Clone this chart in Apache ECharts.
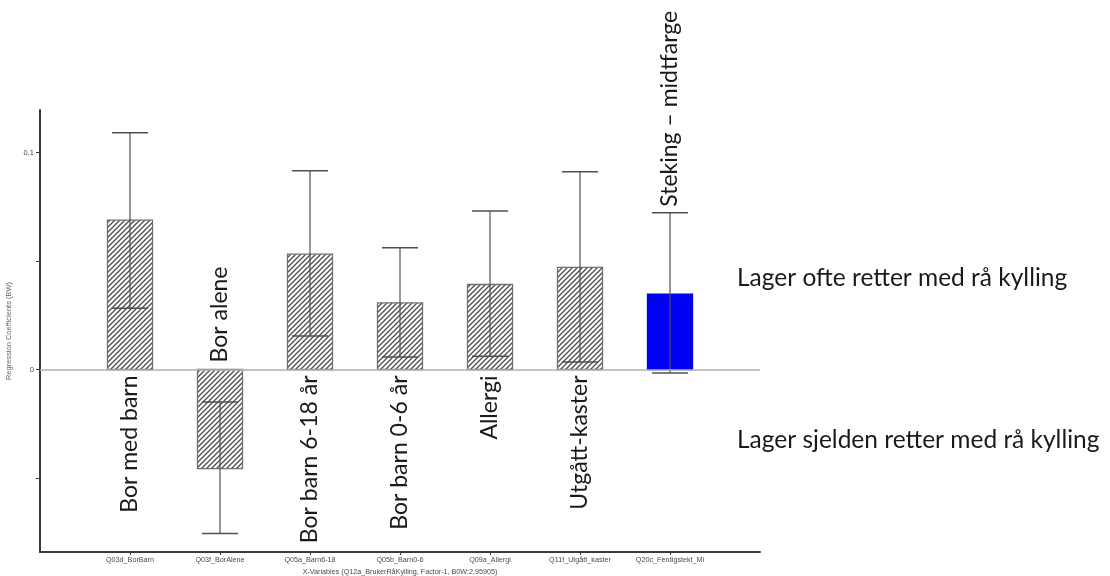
<!DOCTYPE html>
<html><head><meta charset="utf-8">
<script src="https://cdn.jsdelivr.net/npm/echarts@6/dist/echarts.min.js"></script>
<style>html,body{margin:0;padding:0;background:#fff}#c{width:1110px;height:576px}</style>
</head><body><div id="c"></div>
<script>
// ---- data ----
const categories = ['Q03d_BorBarn','Q03f_BorAlene','Q05a_Barn6-18','Q05b_Barn0-6','Q09a_Allergi','Q11f_Utgått_kaster','Q20c_Ferdigstekt_Mi'];
const coefficients = [0.0689, -0.0457, 0.0532, 0.0307, 0.0392, 0.0471, 0.0348];
const errorLow  = [0.0282, -0.0757, 0.0154, 0.0058, 0.0061, 0.0034, -0.0016];
const errorHigh = [0.1092, -0.0150, 0.0917, 0.0561, 0.0731, 0.0912, 0.0723];
const annotations = ['Bor med barn','Bor alene','Bor barn 6-18 år','Bor barn 0-6 år','Allergi','Utgått-kaster','Steking – midtfarge'];
const annotationPlace = ['below','above','below','below','below','below','aboveError'];
const yTickValues = [-0.05, 0, 0.05, 0.1];
const yLabelValues = [0, 0.1];
const sideNotes = ['Lager ofte retter med rå kylling', 'Lager sjelden retter med rå kylling'];
const xAxisTitle = 'X-Variables (Q12a_BrukerRåKylling, Factor-1, B0W:2,95905)';
const yAxisTitle = 'Regression Coefficients (BW)';

// ---- style ----
const highlightIndex = 6;
const BLUE = '#0000f2';
const ANNO_FONT_V = '23px Lato';
const ANNO_FONT_H = '24.5px Lato';

function makeHatch(){
  const s = 5;
  const c = document.createElement('canvas'); c.width = s; c.height = s;
  const g = c.getContext('2d');
  g.fillStyle = '#ffffff'; g.fillRect(0,0,s,s);
  g.strokeStyle = '#4e4e4e'; g.lineWidth = 1.3;
  [[-1, s+1, s+1, -1], [-1, 1, 1, -1], [s-1, s+1, s+1, s-1]].forEach(l => {
    g.beginPath(); g.moveTo(l[0], l[1]); g.lineTo(l[2], l[3]); g.stroke();
  });
  return c;
}
const hatchCanvas = makeHatch();

const seriesData = categories.map((c, i) => [i, coefficients[i], errorLow[i], errorHigh[i]]);

const chart = echarts.init(document.getElementById('c'), null, {renderer: 'canvas'});
chart.setOption({
  animation: false,
  backgroundColor: '#fff',
  grid: {left: 40, right: 350, top: 110, bottom: 24, containLabel: false, outerBoundsMode: 'none'},
  xAxis: {
    type: 'value', min: -1, max: categories.length,
    splitLine: {show: false},
    axisLine: {show: true, onZero: false, lineStyle: {color: '#3a3a3a', width: 2}},
    axisTick: {show: true, length: 3, lineStyle: {color: '#3a3a3a'}, customValues: categories.map((c, i) => i)},
    axisLabel: {
      show: true, fontSize: 7.2, color: '#4a4a4a', fontFamily: 'Liberation Sans', margin: 5,
      customValues: categories.map((c, i) => i),
      formatter: v => categories[Math.round(v)] || ''
    },
    name: xAxisTitle, nameLocation: 'middle', nameGap: 16,
    nameTextStyle: {fontSize: 7.2, color: '#4a4a4a', fontFamily: 'Liberation Sans'}
  },
  yAxis: {
    type: 'value', min: -0.0842, max: 0.1197,
    splitLine: {show: false},
    axisLine: {show: true, onZero: false, lineStyle: {color: '#3a3a3a', width: 2}},
    axisTick: {show: true, length: 4, lineStyle: {color: '#3a3a3a'}, customValues: yTickValues},
    axisLabel: {
      show: true, fontSize: 7.5, color: '#4a4a4a', fontFamily: 'Liberation Sans', margin: 6,
      customValues: yLabelValues,
      formatter: v => String(v).replace('.', ',')
    },
    name: yAxisTitle, nameLocation: 'middle', nameGap: 15,
    nameTextStyle: {fontSize: 7.5, color: '#666', fontFamily: 'Liberation Sans'}
  },
  series: [{
    type: 'custom',
    data: seriesData,
    encode: {x: 0, y: 1},
    markLine: {
      silent: true, symbol: 'none', label: {show: false},
      lineStyle: {color: '#b0b0b0', type: 'solid', width: 1.5},
      data: [{yAxis: 0}]
    },
    renderItem: function(params, api){
      const i = api.value(0), v = api.value(1), lo = api.value(2), hi = api.value(3);
      const p0 = api.coord([i, 0]), p1 = api.coord([i, v]);
      const pl = api.coord([i, lo]), ph = api.coord([i, hi]);
      const w = api.size([0.5, 0])[0];
      const cw = api.size([0.4, 0])[0];
      const isHi = i === highlightIndex;
      const children = [
        {type: 'rect', shape: {x: p0[0] - w/2, y: Math.min(p0[1], p1[1]), width: w, height: Math.abs(p1[1] - p0[1])},
         style: {fill: isHi ? BLUE : {image: hatchCanvas, repeat: 'repeat'}, stroke: isHi ? BLUE : '#707070', lineWidth: 1.3}},
        {type: 'line', shape: {x1: pl[0], y1: pl[1], x2: ph[0], y2: ph[1]}, style: {stroke: '#505050', lineWidth: 1.2}},
        {type: 'line', shape: {x1: pl[0] - cw/2, y1: pl[1], x2: pl[0] + cw/2, y2: pl[1]}, style: {stroke: '#505050', lineWidth: 1.5}},
        {type: 'line', shape: {x1: ph[0] - cw/2, y1: ph[1], x2: ph[0] + cw/2, y2: ph[1]}, style: {stroke: '#505050', lineWidth: 1.5}}
      ];
      const place = annotationPlace[i];
      let ax = p0[0], ay, align;
      if (place === 'below') { ay = p0[1] + 6; align = 'right'; }
      else if (place === 'above') { ay = p0[1] - 7; align = 'left'; }
      else { ay = ph[1] - 6; align = 'left'; }
      children.push({type: 'text', x: ax, y: ay, rotation: Math.PI/2,
        style: {text: annotations[i], font: ANNO_FONT_V, fill: '#1a1a1a', align: align, verticalAlign: 'middle'}});
      return {type: 'group', children: children};
    }
  }],
  graphic: [
    {type: 'text', x: 737, y: 278, style: {text: sideNotes[0], font: ANNO_FONT_H, fill: '#1a1a1a', verticalAlign: 'middle'}},
    {type: 'text', x: 737, y: 440, style: {text: sideNotes[1], font: ANNO_FONT_H, fill: '#1a1a1a', verticalAlign: 'middle'}}
  ]
});
</script></body></html>
